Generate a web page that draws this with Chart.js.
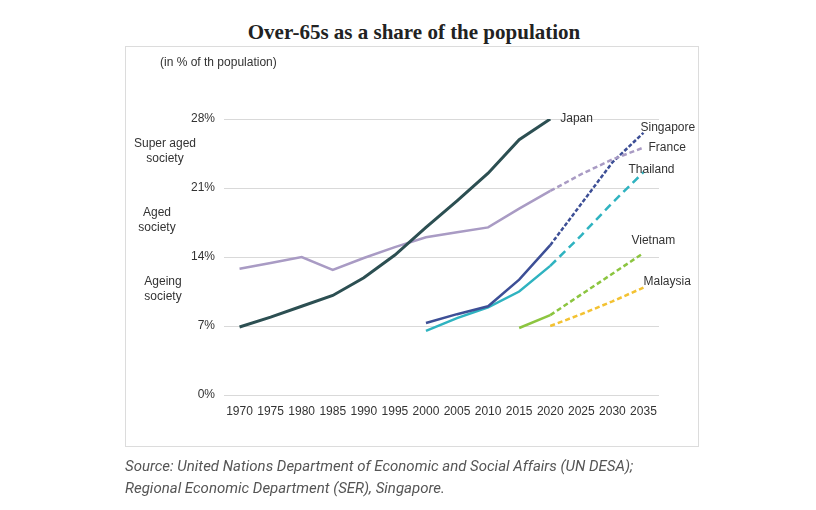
<!DOCTYPE html>
<html>
<head>
<meta charset="utf-8">
<script src="https://cdn.jsdelivr.net/npm/chart.js@4"></script>
<style>
  html, body { margin: 0; padding: 0; background: #fff; }
  body { width: 816px; height: 510px; position: relative; overflow: hidden; }
  #title { position: absolute; left: 0; width: 828px; top: 20px; text-align: center;
           font: bold 21px "Liberation Serif", serif; color: #222; }
  #frame { position: absolute; left: 125px; top: 46px; width: 572px; height: 399px;
           border: 1px solid #dcdcdc; }
  #source { position: absolute; left: 125px; top: 455px; font: italic 15px Roboto, sans-serif;
            color: #555; line-height: 22px; }
  #wrap { position: absolute; left: 0; top: 0; width: 816px; height: 510px; }
</style>
</head>
<body>
<div id="title">Over-65s as a share of the population</div>
<div id="frame"></div>
<div id="wrap"><canvas id="chart"></canvas></div>
<div id="source">Source: United Nations Department of Economic and Social Affairs (UN DESA);<br>Regional Economic Department (SER), Singapore.</div>
<script>
document.addEventListener('DOMContentLoaded', function() {
    // data (% of population aged 65+)
    const years = ['1970', '1975', '1980', '1985', '1990', '1995', '2000', '2005', '2010', '2015', '2020', '2025', '2030', '2035'];
    const yTicks = [0, 7, 14, 21, 28];
    const japan     = [6.9, 7.9, 9.0, 10.1, 11.9, 14.2, 17.0, 19.7, 22.5, 25.9, 28.0, null, null, null];
    const france    = [12.8, 13.4, 14.0, 12.7, 13.9, 15.0, 16.0, 16.5, 17.0, 18.9, 20.7, 22.4, 23.9, 25.1];
    const singapore = [null, null, null, null, null, null, 7.3, 8.2, 9.0, 11.7, 15.2, 19.4, 23.6, 26.6];
    const thailand  = [null, null, null, null, null, null, 6.5, 7.8, 8.9, 10.5, 13.1, 16.2, 19.5, 22.6];
    const vietnam   = [null, null, null, null, null, null, null, null, null, 6.8, 8.1, 10.2, 12.3, 14.4];
    const malaysia  = [null, null, null, null, null, null, null, null, null, null, 7.0, 8.2, 9.5, 10.9];
    const bands = [['Super aged', 'society'], ['Aged', 'society'], ['Ageing', 'society']];

    const projFrom = 10; // 2020: projections start after this index

    function series(label, data, color, width, dash) {
        return {
            label: label,
            data: data,
            borderColor: color,
            borderWidth: width,
            pointRadius: 0,
            fill: false,
            tension: 0,
            spanGaps: false,
            segment: {
                borderDash: ctx => (dash && ctx.p0DataIndex >= projFrom) ? dash : undefined
            }
        };
    }

    // end-of-line labels: [text, dataset index, dx, dy]
    const endLabels = [
        ['Japan', 0, 10, 0],
        ['Singapore', 2, -3, -5],
        ['France', 1, 5, 0],
        ['Thailand', 3, -15, -3],
        ['Vietnam', 4, -12, -12],
        ['Malaysia', 5, 0, -6]
    ];

    const textPlugin = {
        id: 'texts',
        afterDraw(chart) {
            const c = chart.ctx;
            const y = chart.scales.y;
            c.save();
            c.fillStyle = '#333';
            c.font = '12px "Liberation Sans", Arial, sans-serif';
            c.textBaseline = 'middle';
            c.textAlign = 'left';
            c.fillText('(in % of th population)', 160, 63);
            // society bands, placed between ticks
            c.textAlign = 'center';
            const bandX = [165, 157, 163];
            for (let i = 0; i < bands.length; i++) {
                const mid = (y.getPixelForValue(yTicks[4 - i]) + y.getPixelForValue(yTicks[3 - i])) / 2;
                c.fillText(bands[i][0], bandX[i], mid - 10);
                c.fillText(bands[i][1], bandX[i], mid + 5);
            }
            c.textAlign = 'left';
            endLabels.forEach(l => {
                const meta = chart.getDatasetMeta(l[1]);
                const data = chart.data.datasets[l[1]].data;
                let last = data.length - 1;
                while (data[last] == null) last--;
                const pt = meta.data[last];
                c.fillText(l[0], pt.x + l[2], pt.y + l[3]);
            });
            c.restore();
        }
    };

    const ctx = document.getElementById('chart').getContext('2d');
    new Chart(ctx, {
        type: 'line',
        data: {
            labels: years,
            datasets: [
                series('Japan', japan, '#2c4f52', 3, null),
                series('France', france, '#a99bc4', 2.5, [5, 3]),
                series('Singapore', singapore, '#3d4f96', 2.5, [4, 2]),
                series('Thailand', thailand, '#2fb3c0', 2.5, [8, 5]),
                series('Vietnam', vietnam, '#8cc540', 2.5, [5, 3]),
                series('Malaysia', malaysia, '#f3c232', 2.5, [5, 3])
            ]
        },
        options: {
            responsive: true,
            maintainAspectRatio: false,
            animation: false,
            layout: { padding: { top: 119, right: 157, left: 0, bottom: 0 } },
            plugins: { legend: { display: false }, tooltip: { enabled: false } },
            scales: {
                x: {
                    offset: true,
                    grid: { display: false, drawTicks: false },
                    border: { display: false },
                    ticks: { color: '#333', padding: 9, maxRotation: 0, autoSkip: false,
                             font: { family: '"Liberation Sans", Arial', size: 12 } },
                    afterFit: s => { s.height = 115; }
                },
                y: {
                    min: 0,
                    max: 28,
                    afterBuildTicks: s => { s.ticks = yTicks.map(v => ({ value: v })); },
                    grid: { color: '#d9d9d9', lineWidth: 1, drawTicks: false },
                    border: { display: false },
                    ticks: { color: '#333', padding: 9, callback: v => v + '%',
                             font: { family: '"Liberation Sans", Arial', size: 12 } },
                    afterFit: s => { s.width = 224; }
                }
            }
        },
        plugins: [textPlugin]
    });
});
</script>
</body>
</html>
